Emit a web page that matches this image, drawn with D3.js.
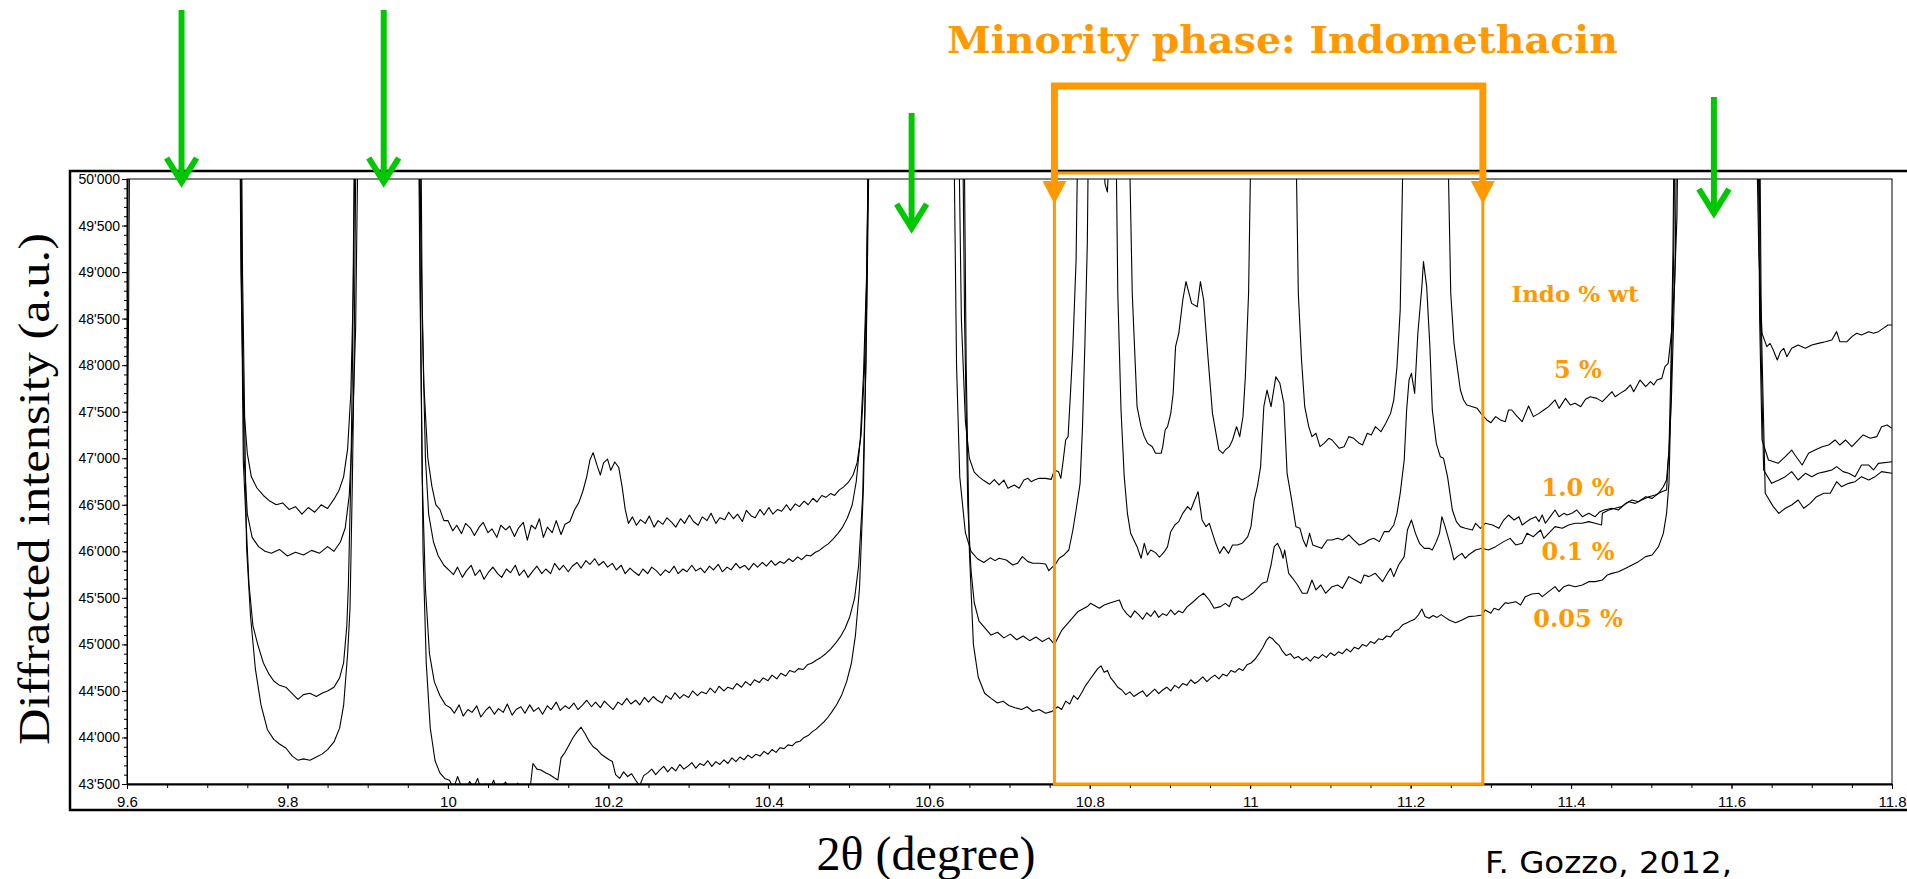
<!DOCTYPE html>
<html>
<head>
<meta charset="utf-8">
<script src="https://cdn.jsdelivr.net/npm/d3@7"></script>
<style>
  html, body { margin: 0; padding: 0; background: #fff; }
  svg { display: block; }
</style>
</head>
<body>
<div id="chart"></div>
<script>
// [2theta (degree), intensity] -- values above 50'000 are cut off by the frame
const s5 = [[9.600,46700],[9.602,48600],[9.605,53000],[9.700,60000],[9.738,54000],[9.742,49000],[9.745,47600],[9.750,47050],[9.755,46800],[9.762,46680],[9.770,46600],[9.778,46540],[9.786,46500],[9.794,46520],[9.802,46450],[9.810,46480],[9.818,46400],[9.826,46470],[9.834,46420],[9.842,46500],[9.850,46460],[9.858,46560],[9.864,46650],[9.870,46800],[9.875,47100],[9.879,47700],[9.882,48800],[9.885,51000],[9.930,60000],[9.963,53000],[9.966,49500],[9.970,47800],[9.975,47000],[9.980,46700],[9.985,46500],[9.990,46450],[9.995,46330],
  [10.000,46330],[10.006,46220],[10.011,46280],[10.017,46190],[10.022,46300],[10.028,46250],[10.033,46170],[10.039,46260],[10.044,46310],[10.050,46200],[10.055,46240],[10.061,46150],[10.066,46280],[10.072,46230],[10.077,46270],[10.083,46160],[10.088,46250],[10.094,46310],[10.099,46120],[10.104,46280],[10.109,46240],[10.114,46350],[10.119,46150],[10.124,46260],[10.130,46200],[10.135,46330],[10.141,46180],[10.146,46290],[10.152,46320],[10.158,46450],[10.163,46520],[10.168,46640],[10.173,46800],[10.177,46980],[10.181,47060],[10.186,46920],[10.190,46820],[10.194,46950],[10.199,46990],[10.203,46870],[10.208,46960],[10.213,46900],[10.217,46700],[10.221,46450],[10.225,46300],[10.230,46370],[10.235,46280],[10.240,46340],[10.246,46300],[10.251,46380],[10.257,46260],[10.262,46330],[10.268,46290],[10.273,46360],[10.279,46310],[10.284,46260],[10.290,46350],[10.295,46300],[10.301,46390],[10.306,46320],[10.312,46280],[10.317,46370],[10.323,46330],[10.328,46410],[10.334,46300],[10.339,46360],[10.345,46340],[10.350,46420],[10.356,46350],[10.361,46400],[10.367,46320],[10.372,46440],[10.378,46380],[10.383,46360],[10.389,46450],[10.394,46390],[10.400,46470],[10.405,46400],[10.411,46450],[10.416,46430],[10.422,46500],[10.427,46440],[10.433,46510],[10.438,46480],[10.444,46540],[10.449,46500],[10.455,46570],[10.460,46530],[10.466,46600],[10.471,46580],[10.477,46620],[10.482,46600],[10.488,46660],[10.493,46690],[10.499,46740],[10.505,46820],[10.510,46950],[10.515,47250],[10.519,47900],[10.522,48900],[10.525,51000],[10.580,60000],[10.636,51000],[10.640,48500],[10.645,47400],[10.650,47000],[10.656,46850],[10.662,46800],[10.668,46760],[10.675,46720],[10.681,46770],
  [10.687,46713],[10.693,46766],[10.698,46677],[10.706,46713],[10.712,46677],[10.718,46766],[10.723,46784],[10.727,46748],[10.731,46766],[10.737,46784],[10.745,46784],[10.752,46773],[10.756,46874],[10.761,46856],[10.764,46784],[10.767,46981],[10.770,47196],[10.773,47232],[10.776,47697],[10.779,48199],[10.783,49130],[10.786,51000],[10.800,56000],[10.816,50600],[10.819,49950],[10.822,49860],[10.825,50400],[10.835,56000],[10.848,51000],
  [10.853,48772],[10.859,47554],[10.864,47339],[10.868,47232],[10.872,47160],[10.878,47124],[10.882,47053],[10.889,47053],[10.891,47124],[10.894,47303],[10.897,47339],[10.901,47482],[10.904,47697],[10.907,48199],[10.911,48342],[10.916,48700],[10.920,48897],[10.927,48664],[10.934,48628],[10.938,48897],[10.942,48700],[10.947,48127],[10.953,47482],[10.961,47089],[10.966,47053],[10.969,47089],[10.974,47124],[10.978,47196],[10.983,47339],[10.987,47232],[10.991,47447],[10.994,47876],[10.998,48772],[11.002,51000],[11.030,60000],[11.056,51000],
  [11.060,48772],[11.064,48055],[11.068,47554],[11.073,47339],[11.077,47232],[11.082,47268],[11.087,47124],[11.092,47160],[11.098,47214],[11.102,47196],[11.111,47107],[11.117,47124],[11.123,47232],[11.129,47214],[11.136,47160],[11.140,47142],[11.146,47268],[11.151,47250],[11.156,47339],[11.163,47285],[11.169,47375],[11.175,47482],[11.179,47626],[11.183,47984],[11.187,48593],[11.192,51000],[11.220,60000],[11.245,51000],
  [11.250,48772],[11.254,48235],[11.258,47984],[11.262,47733],[11.266,47626],[11.270,47572],[11.277,47554],[11.283,47536],[11.289,47465],[11.295,47411],[11.300,47382],[11.306,47447],[11.312,47411],[11.318,47393],[11.322,47518],[11.326,47518],[11.333,47447],[11.339,47393],[11.347,47561],[11.353,47447],[11.360,47482],[11.366,47518],[11.372,47554],[11.380,47626],[11.385,47536],[11.393,47643],[11.399,47572],[11.405,47590],[11.412,47554],[11.418,47633],[11.424,47661],[11.432,47643],[11.439,47608],[11.445,47661],[11.451,47715],[11.455,47661],[11.461,47697],[11.468,47733],[11.474,47787],[11.478,47715],[11.486,47840],[11.493,47769],[11.499,47823],[11.503,47787],[11.507,47840],[11.513,47858],[11.517,47984],[11.521,48019],[11.525,48342],[11.529,48879],[11.532,49600],[11.535,52000],[11.580,60000],[11.630,51000],[11.634,49200],[11.638,48342],[11.644,48199],[11.648,48234],[11.652,48163],[11.657,48055],[11.661,48145],[11.665,48181],[11.669,48091],[11.675,48181],[11.683,48216],[11.692,48181],[11.700,48216],[11.708,48234],[11.717,48252],[11.725,48270],[11.731,48360],[11.735,48252],[11.744,48252],[11.750,48306],[11.756,48342],[11.762,48324],[11.771,48360],[11.777,48342],[11.783,48360],[11.789,48395],[11.795,48431],[11.800,48431]];

const s10 = [[9.600,47600],[9.603,53000],[9.700,60000],[9.740,54000],[9.743,49000],[9.746,47000],[9.750,46400],[9.756,46150],[9.764,46050],[9.772,46000],[9.780,45980],[9.790,46020],[9.800,45950],[9.810,45990],[9.820,45960],[9.830,46010],[9.840,45980],[9.850,46050],[9.858,46000],[9.866,46100],[9.872,46250],[9.877,46600],[9.881,47300],[9.885,48400],[9.888,50500],[9.930,60000],[9.966,51000],[9.968,48500],[9.972,47000],[9.976,46400],[9.982,46100],[9.988,45950],[9.995,45850],
  [10.001,45800],[10.007,45750],[10.012,45830],[10.018,45720],[10.023,45790],[10.029,45850],[10.034,45740],[10.040,45800],[10.045,45700],[10.051,45780],[10.056,45830],[10.062,45760],[10.067,45720],[10.073,45810],[10.078,45770],[10.084,45850],[10.089,45740],[10.095,45800],[10.100,45720],[10.106,45790],[10.111,45840],[10.117,45760],[10.122,45810],[10.128,45760],[10.133,45870],[10.139,45800],[10.144,45850],[10.150,45780],[10.155,45840],[10.161,45880],[10.166,45820],[10.172,45900],[10.177,45860],[10.183,45920],[10.188,45850],[10.194,45890],[10.199,45830],[10.205,45870],[10.210,45800],[10.216,45850],[10.221,45760],[10.227,45820],[10.232,45780],[10.238,45740],[10.243,45810],[10.249,45760],[10.254,45830],[10.260,45790],[10.265,45740],[10.271,45800],[10.276,45770],[10.282,45840],[10.287,45760],[10.293,45810],[10.298,45780],[10.304,45850],[10.309,45790],[10.315,45820],[10.320,45770],[10.326,45840],[10.331,45800],[10.337,45860],[10.342,45780],[10.348,45830],[10.353,45800],[10.359,45870],[10.364,45820],[10.370,45850],[10.375,45800],[10.381,45870],[10.386,45830],[10.392,45880],[10.397,45840],[10.403,45900],[10.408,45850],[10.414,45890],[10.419,45870],[10.425,45920],[10.430,45890],[10.436,45940],[10.441,45910],[10.447,45960],[10.452,45950],[10.458,45990],[10.463,46010],[10.469,46050],[10.474,46080],[10.480,46130],[10.486,46190],[10.492,46260],[10.498,46360],[10.504,46500],[10.509,46750],[10.514,47200],[10.518,47900],[10.522,49000],[10.525,51000],[10.580,60000],[10.630,51000],[10.634,48000],[10.638,46800],[10.645,46200],[10.652,46000],[10.660,45920],[10.668,45880],[10.676,45930],[10.682,45900],
  [10.687,45925],[10.696,45907],[10.704,45853],[10.710,45871],[10.716,45943],[10.723,45889],[10.729,45871],[10.737,45871],[10.745,45864],[10.749,45792],[10.754,45835],[10.758,45871],[10.762,45925],[10.768,45961],[10.774,46014],[10.779,46229],[10.783,46444],[10.788,46730],[10.791,47339],[10.794,48235],[10.797,49309],[10.799,51000],[10.815,58000],[10.832,51000],[10.835,48772],[10.839,47518],[10.843,46802],[10.847,46408],[10.851,46193],[10.855,46122],[10.859,46050],[10.864,45925],[10.868,46086],[10.872,45961],[10.876,46014],[10.882,45986],[10.887,45936],[10.893,45996],[10.897,46050],[10.901,46211],[10.906,46283],[10.911,46319],[10.916,46408],[10.922,46480],[10.926,46444],[10.930,46533],[10.935,46641],[10.940,46337],[10.945,46265],[10.949,46301],[10.953,46193],[10.957,46086],[10.962,45978],[10.967,46050],[10.973,45978],[10.978,46068],[10.984,46068],[10.990,46086],[10.997,46157],[11.001,46265],[11.005,46551],[11.009,46695],[11.013,46910],[11.017,47554],[11.021,47733],[11.026,47554],[11.032,47876],[11.037,47805],[11.042,47590],[11.046,46838],[11.051,46587],[11.057,46265],[11.062,46247],[11.066,46122],[11.070,46050],[11.074,46193],[11.078,46068],[11.084,46050],[11.089,46032],[11.096,46122],[11.102,46122],[11.109,46140],[11.115,46122],[11.123,46176],[11.129,46122],[11.136,46068],[11.142,46086],[11.148,46122],[11.154,46140],[11.161,46104],[11.167,46211],[11.173,46211],[11.179,46283],[11.183,46408],[11.187,46623],[11.192,46981],[11.195,47518],[11.198,47840],[11.201,47912],[11.205,47697],[11.209,48342],[11.214,48843],[11.216,49112],[11.220,48843],[11.224,48199],[11.227,47518],[11.232,47160],[11.237,47017],[11.241,46999],[11.246,46802],[11.252,46444],[11.257,46319],[11.262,46265],[11.268,46247],[11.277,46229],[11.281,46301],[11.287,46247],[11.293,46301],[11.302,46283],[11.310,46247],[11.316,46336],[11.322,46390],[11.329,46336],[11.335,46372],[11.339,46283],[11.349,46344],[11.356,46372],[11.360,46319],[11.364,46390],[11.368,46301],[11.374,46372],[11.380,46444],[11.385,46372],[11.391,46408],[11.395,46390],[11.401,46408],[11.407,46444],[11.414,46372],[11.422,46408],[11.430,46372],[11.436,46426],[11.441,46444],[11.451,46462],[11.459,46444],[11.468,46515],[11.476,46551],[11.484,46533],[11.493,46587],[11.501,46569],[11.509,46623],[11.515,46694],[11.519,46766],[11.522,47088],[11.525,47626],[11.528,48521],[11.530,49237],[11.533,52000],[11.580,60000],[11.632,52000],[11.635,48500],[11.638,47196],[11.646,46981],[11.658,46945],[11.667,47017],[11.675,47088],[11.679,47035],[11.688,46927],[11.696,47053],[11.704,47088],[11.713,47124],[11.721,47142],[11.729,47196],[11.735,47142],[11.742,47196],[11.750,47124],[11.758,47196],[11.764,47250],[11.773,47214],[11.781,47232],[11.787,47339],[11.794,47357],[11.800,47321]];

const s01 = [[9.600,53000],[9.700,60000],[9.739,54000],[9.742,49500],[9.745,46958],[9.752,45651],[9.757,45200],[9.763,44998],[9.770,44800],[9.777,44680],[9.783,44606],[9.790,44560],[9.798,44540],[9.806,44470],[9.813,44410],[9.820,44460],[9.828,44475],[9.836,44440],[9.843,44475],[9.850,44500],[9.858,44540],[9.865,44640],[9.870,44802],[9.874,45200],[9.876,45651],[9.879,46800],[9.881,48003],[9.884,51000],[9.930,60000],[9.962,52000],[9.965,49000],[9.968,46800],[9.972,45600],[9.977,44900],[9.983,44600],[9.990,44450],[9.997,44350],
  [10.003,44320],[10.008,44260],[10.014,44350],[10.019,44230],[10.025,44300],[10.030,44270],[10.036,44340],[10.041,44220],[10.047,44290],[10.052,44330],[10.058,44250],[10.063,44310],[10.069,44270],[10.074,44360],[10.080,44240],[10.085,44300],[10.091,44330],[10.096,44260],[10.102,44350],[10.107,44280],[10.113,44320],[10.118,44250],[10.124,44340],[10.129,44300],[10.135,44380],[10.140,44290],[10.146,44340],[10.151,44310],[10.157,44370],[10.162,44300],[10.168,44350],[10.173,44400],[10.179,44330],[10.184,44380],[10.190,44320],[10.195,44390],[10.201,44340],[10.206,44300],[10.212,44380],[10.217,44350],[10.223,44420],[10.228,44360],[10.234,44400],[10.239,44350],[10.245,44430],[10.250,44380],[10.256,44440],[10.261,44400],[10.267,44370],[10.272,44450],[10.278,44410],[10.283,44480],[10.289,44420],[10.294,44460],[10.300,44430],[10.305,44500],[10.311,44450],[10.316,44490],[10.322,44470],[10.327,44530],[10.333,44480],[10.338,44550],[10.344,44500],[10.349,44540],[10.355,44520],[10.360,44580],[10.366,44540],[10.371,44600],[10.377,44560],[10.382,44620],[10.388,44590],[10.393,44640],[10.399,44610],[10.404,44670],[10.410,44630],[10.415,44690],[10.421,44660],[10.426,44720],[10.432,44700],[10.437,44740],[10.443,44730],[10.448,44780],[10.454,44800],[10.459,44830],[10.465,44860],[10.471,44900],[10.477,44950],[10.483,45010],[10.489,45080],[10.495,45170],[10.501,45300],[10.507,45500],[10.512,45850],[10.517,46600],[10.521,48000],[10.525,51000],[10.580,60000],[10.640,52000],[10.644,48500],[10.648,46500],[10.652,45800],[10.656,45450],[10.662,45250],[10.669,45180],[10.677,45100],[10.685,45130],[10.693,45070],[10.701,45110],[10.709,45050],[10.717,45090],[10.725,45040],[10.733,45080],[10.741,45030],[10.749,45070],[10.756,45000],
  [10.765,45150],[10.775,45250],[10.785,45350],[10.797,45406],[10.801,45441],[10.807,45413],[10.812,45388],[10.818,45423],[10.824,45441],[10.830,45459],[10.837,45477],[10.841,45388],[10.846,45330],[10.851,45290],[10.856,45360],[10.861,45320],[10.866,45270],[10.871,45340],[10.876,45300],[10.881,45360],[10.886,45290],[10.891,45330],[10.896,45310],[10.901,45370],[10.906,45320],[10.911,45360],[10.916,45340],[10.921,45400],[10.928,45450],[10.936,45513],[10.942,45549],[10.949,45477],[10.955,45388],[10.963,45406],[10.969,45441],[10.974,45406],[10.978,45495],[10.984,45513],[10.990,45477],[10.997,45513],[11.003,45549],[11.009,45602],[11.015,45656],[11.021,45674],[11.026,45853],[11.030,46050],[11.034,46086],[11.038,46014],[11.041,45925],[11.043,46014],[11.048,45763],[11.053,45710],[11.059,45638],[11.065,45549],[11.071,45549],[11.077,45692],[11.082,45585],[11.088,45638],[11.094,45549],[11.102,45620],[11.109,45638],[11.115,45602],[11.123,45728],[11.131,45692],[11.138,45656],[11.142,45746],[11.148,45728],[11.156,45764],[11.165,45674],[11.171,45764],[11.175,45817],[11.179,45728],[11.185,45853],[11.192,45943],[11.196,46229],[11.201,46337],[11.206,46193],[11.211,46086],[11.217,46032],[11.223,46032],[11.227,46014],[11.232,46104],[11.236,46193],[11.239,46372],[11.243,46265],[11.250,46050],[11.254,45907],[11.258,45943],[11.264,45978],[11.268,45925],[11.272,45960],[11.281,46014],[11.289,46032],[11.297,46014],[11.306,46050],[11.316,46104],[11.324,46139],[11.331,46068],[11.339,46086],[11.345,46193],[11.353,46157],[11.362,46229],[11.366,46139],[11.372,46193],[11.380,46265],[11.389,46247],[11.397,46283],[11.405,46301],[11.414,46301],[11.422,46319],[11.430,46301],[11.438,46283],[11.439,46408],[11.447,46444],[11.455,46462],[11.463,46480],[11.472,46533],[11.480,46515],[11.488,46551],[11.497,46587],[11.505,46605],[11.513,46641],[11.519,46659],[11.522,47088],[11.524,47805],[11.526,48700],[11.527,49237],[11.530,52000],[11.580,60000],[11.633,52000],[11.636,48500],[11.640,46874],[11.650,46730],[11.659,46766],[11.667,46802],[11.675,46856],[11.683,46766],[11.692,46838],[11.700,46802],[11.708,46838],[11.717,46856],[11.725,46874],[11.731,46910],[11.739,46856],[11.746,46838],[11.754,46802],[11.762,46927],[11.771,46927],[11.777,46874],[11.783,46945],[11.800,46963]];

const s005 = [[9.600,53000],[9.700,60000],[9.740,54000],[9.744,49000],[9.749,46043],[9.754,45300],[9.760,44736],[9.767,44350],[9.775,44083],[9.783,43980],[9.790,43930],[9.798,43887],[9.806,43800],[9.813,43756],[9.820,43770],[9.828,43756],[9.836,43790],[9.843,43821],[9.850,43870],[9.858,43952],[9.865,44100],[9.870,44344],[9.875,44900],[9.878,45390],[9.881,46800],[9.883,48003],[9.886,51000],[9.930,60000],[9.963,52000],[9.966,48500],[9.969,46000],[9.973,44800],[9.978,44100],[9.984,43750],[9.990,43620],[9.996,43560],
  [10.002,43540],[10.007,43450],[10.012,43580],[10.017,43470],[10.022,43400],[10.027,43530],[10.032,43460],[10.037,43560],[10.042,43420],[10.047,43500],[10.052,43440],[10.057,43540],[10.062,43410],[10.067,43480],[10.072,43520],[10.077,43430],[10.082,43390],[10.087,43510],[10.092,43440],[10.097,43480],[10.102,43420],[10.106,43720],[10.111,43660],[10.116,43650],[10.122,43618],[10.127,43600],[10.132,43570],[10.137,43543],[10.141,43780],[10.146,43840],[10.151,43920],[10.156,44000],[10.161,44060],[10.166,44110],[10.171,44040],[10.176,43960],[10.181,43900],[10.186,43870],[10.191,43820],[10.196,43790],[10.201,43760],[10.205,43742],[10.209,43600],[10.214,43560],[10.219,43630],[10.224,43580],[10.229,43610],[10.234,43540],[10.239,43480],[10.244,43590],[10.249,43620],[10.254,43660],[10.259,43600],[10.264,43650],[10.269,43690],[10.274,43630],[10.279,43680],[10.284,43640],[10.289,43710],[10.294,43660],[10.299,43690],[10.304,43730],[10.309,43670],[10.314,43720],[10.319,43700],[10.324,43750],[10.329,43690],[10.334,43740],[10.339,43710],[10.344,43760],[10.349,43720],[10.354,43780],[10.359,43740],[10.364,43790],[10.369,43760],[10.374,43810],[10.379,43780],[10.384,43820],[10.389,43800],[10.394,43850],[10.399,43820],[10.404,43870],[10.409,43840],[10.414,43890],[10.419,43880],[10.424,43920],[10.429,43910],[10.434,43950],[10.439,43960],[10.444,44000],[10.449,44020],[10.454,44060],[10.459,44090],[10.464,44130],[10.469,44170],[10.474,44220],[10.479,44280],[10.485,44360],[10.491,44460],[10.497,44600],[10.503,44800],[10.508,45100],[10.513,45600],[10.518,46700],[10.522,48500],[10.526,51000],[10.580,60000],[10.642,52000],[10.646,48000],[10.650,46000],[10.655,45000],[10.661,44650],[10.669,44475],[10.677,44420],[10.685,44370],[10.692,44390],[10.699,44344],[10.707,44320],[10.715,44300],[10.722,44330],[10.729,44279],[10.737,44300],[10.745,44260],[10.753,44280],
  [10.760,44330],[10.765,44300],[10.770,44390],[10.775,44360],[10.780,44450],[10.785,44410],[10.790,44480],[10.795,44560],[10.800,44620],[10.805,44680],[10.810,44740],[10.814,44770],[10.818,44700],[10.822,44720],[10.826,44640],[10.830,44600],[10.835,44540],[10.840,44510],[10.845,44460],[10.850,44490],[10.855,44440],[10.860,44470],[10.866,44500],[10.871,44440],[10.876,44480],[10.881,44520],[10.886,44470],[10.891,44510],[10.896,44540],[10.901,44500],[10.906,44560],[10.911,44530],[10.916,44580],[10.921,44560],[10.926,44620],[10.931,44580],[10.936,44610],[10.941,44650],[10.946,44600],[10.951,44640],[10.956,44670],[10.961,44630],[10.966,44680],[10.971,44660],[10.976,44720],[10.981,44700],[10.986,44740],[10.991,44720],[10.996,44780],[11.001,44800],[11.006,44840],[11.011,44900],[11.016,44970],[11.020,45040],[11.024,45080],[11.028,45060],[11.032,45020],[11.036,44990],[11.040,44930],[11.045,44880],[11.050,44900],[11.055,44850],[11.060,44870],[11.065,44830],[11.070,44860],[11.075,44820],[11.080,44870],[11.085,44850],[11.090,44890],[11.095,44860],[11.100,44910],[11.105,44880],[11.110,44920],[11.115,44900],[11.120,44950],[11.125,44920],[11.130,44970],[11.135,44950],[11.140,45000],[11.145,44980],[11.150,45030],[11.155,45010],[11.160,45060],[11.165,45050],[11.170,45090],[11.175,45080],[11.180,45140],[11.185,45160],[11.190,45210],[11.195,45230],[11.200,45250],[11.205,45270],[11.210,45320],[11.214,45380],[11.218,45300],[11.223,45280],[11.228,45310],[11.233,45290],[11.238,45320],[11.243,45290],
  [11.248,45262],[11.256,45233],[11.264,45262],[11.272,45298],[11.281,45305],[11.289,45316],[11.293,45370],[11.300,45334],[11.304,45388],[11.310,45370],[11.318,45448],[11.322,45441],[11.331,45459],[11.337,45423],[11.343,45513],[11.351,45541],[11.360,45549],[11.364,45513],[11.372,45567],[11.380,45620],[11.385,45567],[11.391,45620],[11.397,45638],[11.405,45620],[11.414,45638],[11.422,45674],[11.430,45674],[11.439,45692],[11.445,45745],[11.451,45763],[11.459,45781],[11.468,45817],[11.476,45853],[11.484,45889],[11.493,45943],[11.501,45960],[11.509,46050],[11.515,46193],[11.519,46408],[11.522,46730],[11.524,47447],[11.526,48342],[11.528,49237],[11.531,52000],[11.580,60000],[11.634,52000],[11.637,48500],[11.642,46623],[11.652,46480],[11.659,46408],[11.667,46462],[11.675,46498],[11.683,46551],[11.690,46462],[11.698,46515],[11.706,46587],[11.715,46623],[11.723,46623],[11.731,46748],[11.737,46694],[11.746,46730],[11.754,46748],[11.762,46802],[11.771,46766],[11.779,46802],[11.787,46856],[11.800,46838]];

const seriesLabels = ["5 %", "1.0 %", "0.1 %", "0.05 %"];
const xTicks = [9.6, 9.8, 10, 10.2, 10.4, 10.6, 10.8, 11, 11.2, 11.4, 11.6, 11.8];
const yTicks = [43500, 44000, 44500, 45000, 45500, 46000, 46500, 47000, 47500, 48000, 48500, 49000, 49500, 50000];
const greenArrows = [9.668, 9.92, 10.578, 11.578];  // main phase peaks
const indoRange = [10.756, 11.29];                   // minority phase window

const width = 1907;
const height = 879;
const margin = {top: 179, right: 15, bottom: 95, left: 127};
const orange = '#ff9900';
const green = '#00c800';

const svg = d3.select('#chart')
    .append('svg')
    .attr('width', width)
    .attr('height', height);

const x = d3.scaleLinear()
    .domain([9.6, 11.8])
    .range([margin.left, width - margin.right]);

const y = d3.scaleLinear()
    .domain([43500, 50000])
    .range([height - margin.bottom, margin.top]);

// outer frame of the figure (runs off to the right)
svg.append('rect')
    .attr('x', 70).attr('y', 171)
    .attr('width', 1900).attr('height', 639)
    .attr('fill', 'none')
    .attr('stroke', '#000')
    .attr('stroke-width', 2.5);

svg.append('clipPath').attr('id', 'plot-clip')
    .append('rect')
    .attr('x', x(9.6)).attr('y', y(50000))
    .attr('width', x(11.8) - x(9.6))
    .attr('height', y(43500) - y(50000));

// patterns
const line = d3.line()
    .x(d => x(d[0]))
    .y(d => y(d[1]));

svg.append('g')
    .attr('clip-path', 'url(#plot-clip)')
    .selectAll('path')
    .data([s5, s10, s01, s005])
    .join('path')
    .attr('d', line)
    .attr('fill', 'none')
    .attr('stroke', '#000')
    .attr('stroke-width', 1.1)
    .attr('stroke-linejoin', 'round');

// plot border
svg.append('rect')
    .attr('x', x(9.6)).attr('y', y(50000))
    .attr('width', x(11.8) - x(9.6))
    .attr('height', y(43500) - y(50000))
    .attr('fill', 'none')
    .attr('stroke', '#000')
    .attr('stroke-width', 1);

// axes
const swiss = d3.formatLocale({decimal: '.', thousands: "'", grouping: [3], currency: ['', '']});
const fmtY = swiss.format(',');

const xMinor = svg.append('g')
    .attr('transform', `translate(0,${y(43500)})`)
    .call(d3.axisBottom(x).tickValues(d3.range(0, 45).map(i => 9.6 + i * 0.05)).tickFormat('').tickSize(4).tickSizeOuter(0));
xMinor.select('.domain').remove();

const xAxis = svg.append('g')
    .attr('transform', `translate(0,${y(43500)})`)
    .call(d3.axisBottom(x).tickValues(xTicks).tickFormat(d => +d.toFixed(1)).tickSize(5).tickPadding(7).tickSizeOuter(0));
xAxis.select('.domain').attr('stroke-width', 2);
xAxis.selectAll('text').style('font', '15px "Liberation Sans", Arial, sans-serif').attr('fill', '#000');

const yMinor = svg.append('g')
    .attr('transform', `translate(${x(9.6)},0)`)
    .call(d3.axisLeft(y).tickValues(d3.range(0, 66).map(i => 43500 + i * 100)).tickFormat('').tickSize(3).tickSizeOuter(0));
yMinor.select('.domain').remove();

const yAxis = svg.append('g')
    .attr('transform', `translate(${x(9.6)},0)`)
    .call(d3.axisLeft(y).tickValues(yTicks).tickFormat(fmtY).tickSize(5).tickPadding(2).tickSizeOuter(0));
yAxis.selectAll('text').style('font', '14px "Liberation Sans", Arial, sans-serif').attr('fill', '#000');

// axis titles
svg.append('text')
    .attr('transform', 'translate(49,489) rotate(-90)')
    .attr('text-anchor', 'middle')
    .attr('textLength', 512)
    .attr('lengthAdjust', 'spacingAndGlyphs')
    .style('font', '44px "Liberation Serif", "Times New Roman", serif')
    .text('Diffracted intensity (a.u.)');

svg.append('text')
    .attr('x', 926).attr('y', 870)
    .attr('text-anchor', 'middle')
    .style('font', '48px "Liberation Serif", "Times New Roman", serif')
    .text('2θ (degree)');

svg.append('text')
    .attr('x', 1485).attr('y', 873)
    .attr('textLength', 247)
    .attr('lengthAdjust', 'spacingAndGlyphs')
    .style('font', '31px "DejaVu Sans", Verdana, sans-serif')
    .attr('fill', '#000')
    .text('F. Gozzo, 2012,');

// green arrows on the main phase peaks: [top, tip] in px
const arrowY = [[10, 185], [10, 185], [113, 231], [97, 216]];
const arrows = svg.append('g')
    .attr('stroke', green)
    .attr('stroke-width', 6)
    .attr('fill', 'none');
greenArrows.forEach((v, i) => {
    const ax = x(v);
    const [top, tip] = arrowY[i];
    arrows.append('line').attr('x1', ax).attr('x2', ax).attr('y1', top).attr('y2', tip - 3);
    arrows.append('path')
        .attr('d', `M${ax - 15},${tip - 27} L${ax},${tip - 3} L${ax + 15},${tip - 27}`)
        .attr('stroke-linejoin', 'miter');
});

// minority phase window and bracket
const bx0 = x(indoRange[0]);
const bx1 = x(indoRange[1]);

svg.append('rect')
    .attr('x', bx0).attr('y', 173)
    .attr('width', bx1 - bx0)
    .attr('height', y(43500) - 173)
    .attr('fill', 'none')
    .attr('stroke', orange)
    .attr('stroke-width', 3);

svg.append('path')
    .attr('d', `M${bx0},183 V86 H${bx1} V183`)
    .attr('fill', 'none')
    .attr('stroke', orange)
    .attr('stroke-width', 7);

svg.selectAll('.bracket-head')
    .data([bx0, bx1])
    .join('path')
    .attr('class', 'bracket-head')
    .attr('d', d => `M${d - 12},181 L${d + 12},181 L${d},204 Z`)
    .attr('fill', orange);

svg.append('text')
    .attr('x', 947).attr('y', 53)
    .attr('textLength', 671)
    .attr('lengthAdjust', 'spacingAndGlyphs')
    .style('font', 'bold 38px "DejaVu Serif", serif')
    .attr('fill', orange)
    .text('Minority phase: Indomethacin');

// concentration legend
svg.append('text')
    .attr('x', 1575).attr('y', 302)
    .attr('text-anchor', 'middle')
    .style('font', 'bold 23px "DejaVu Serif", serif')
    .attr('fill', orange)
    .text('Indo % wt');

const labelY = [378, 496, 560, 627];
svg.selectAll('.conc')
    .data(seriesLabels)
    .join('text')
    .attr('class', 'conc')
    .attr('x', 1578)
    .attr('y', (d, i) => labelY[i])
    .attr('text-anchor', 'middle')
    .style('font', 'bold 24px "DejaVu Serif", serif')
    .attr('fill', orange)
    .text(d => d);
</script>
